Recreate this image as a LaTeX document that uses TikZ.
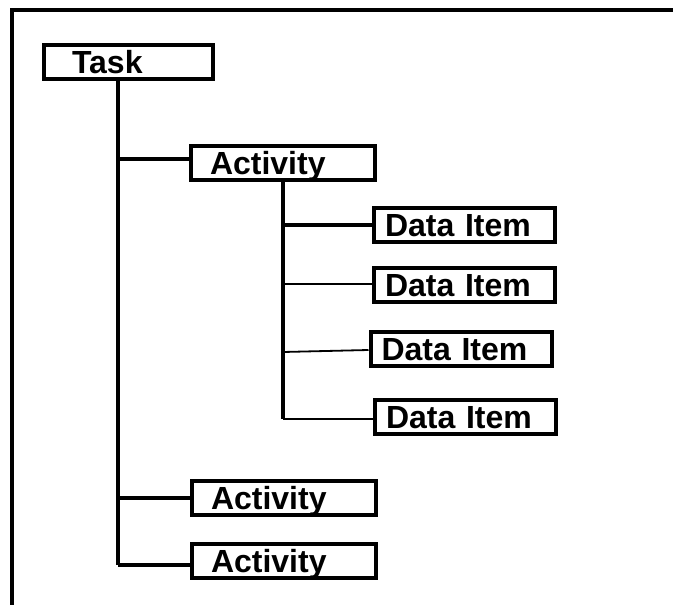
\documentclass[tikz,border=0pt]{standalone}
\usepackage{fontspec}
\setmainfont{Liberation Sans}
\usepackage{tikz}
\usetikzlibrary{calc}

\begin{document}
\begin{tikzpicture}[x=1pt,y=-1pt,
    box/.style={draw,line width=4pt,font=\fontsize{32}{38}\selectfont\bfseries,
      align=left,minimum height=34pt,inner ysep=0pt,text height=23pt,text depth=0pt},
    taskbox/.style={box,inner xsep=28pt,text width=113pt},
    actbox/.style={box,inner xsep=19pt,text width=146pt},
    itembox/.style={box,inner xsep=11pt,text width=159pt},
    link/.style={line width=4pt},
    thinlink/.style={line width=1.8pt}]
  \useasboundingbox (0,0) rectangle (673,605);
  % frame
  \draw[line width=4pt] (12,605) -- (12,10) -- (673,10);
  % boxes
  \node[taskbox] (task) at (128.5,62) {Task};
  \node[actbox] (act1) at (283,162.5) {Activity};
  \node[itembox] (item1) at (464.5,224.5) {Data Item};
  \node[itembox] (item2) at (464.5,284.5) {Data Item};
  \node[itembox] (item3) at (461,349) {Data Item};
  \node[itembox] (item4) at (465.5,416.5) {Data Item};
  \node[actbox] (act2) at (284,497.5) {Activity};
  \node[actbox] (act3) at (284,560.5) {Activity};
  % task trunk
  \coordinate (ta) at (118,159);
  \coordinate (tb) at (118,498);
  \coordinate (tc) at (118,565);
  \draw[link] (task.south -| ta) -- (tc);
  \draw[link] (ta) -- (ta -| act1.west);
  \draw[link] (tb) -- (tb -| act2.west);
  \draw[link] (tc) -- (tc -| act3.west);
  % activity trunk
  \coordinate (aa) at (283,225);
  \coordinate (ab) at (283,284);
  \coordinate (ac) at (283,352);
  \coordinate (ad) at (283,419);
  \draw[link] (act1.south) -- (ad);
  \draw[link] (aa) -- (aa -| item1.west);
  \draw[thinlink] (ab) -- (ab -| item2.west);
  \draw[thinlink] (ac) -- ($(item3.west)+(0,1)$);
  \draw[thinlink] (ad) -- (ad -| item4.west);
\end{tikzpicture}
\end{document}
